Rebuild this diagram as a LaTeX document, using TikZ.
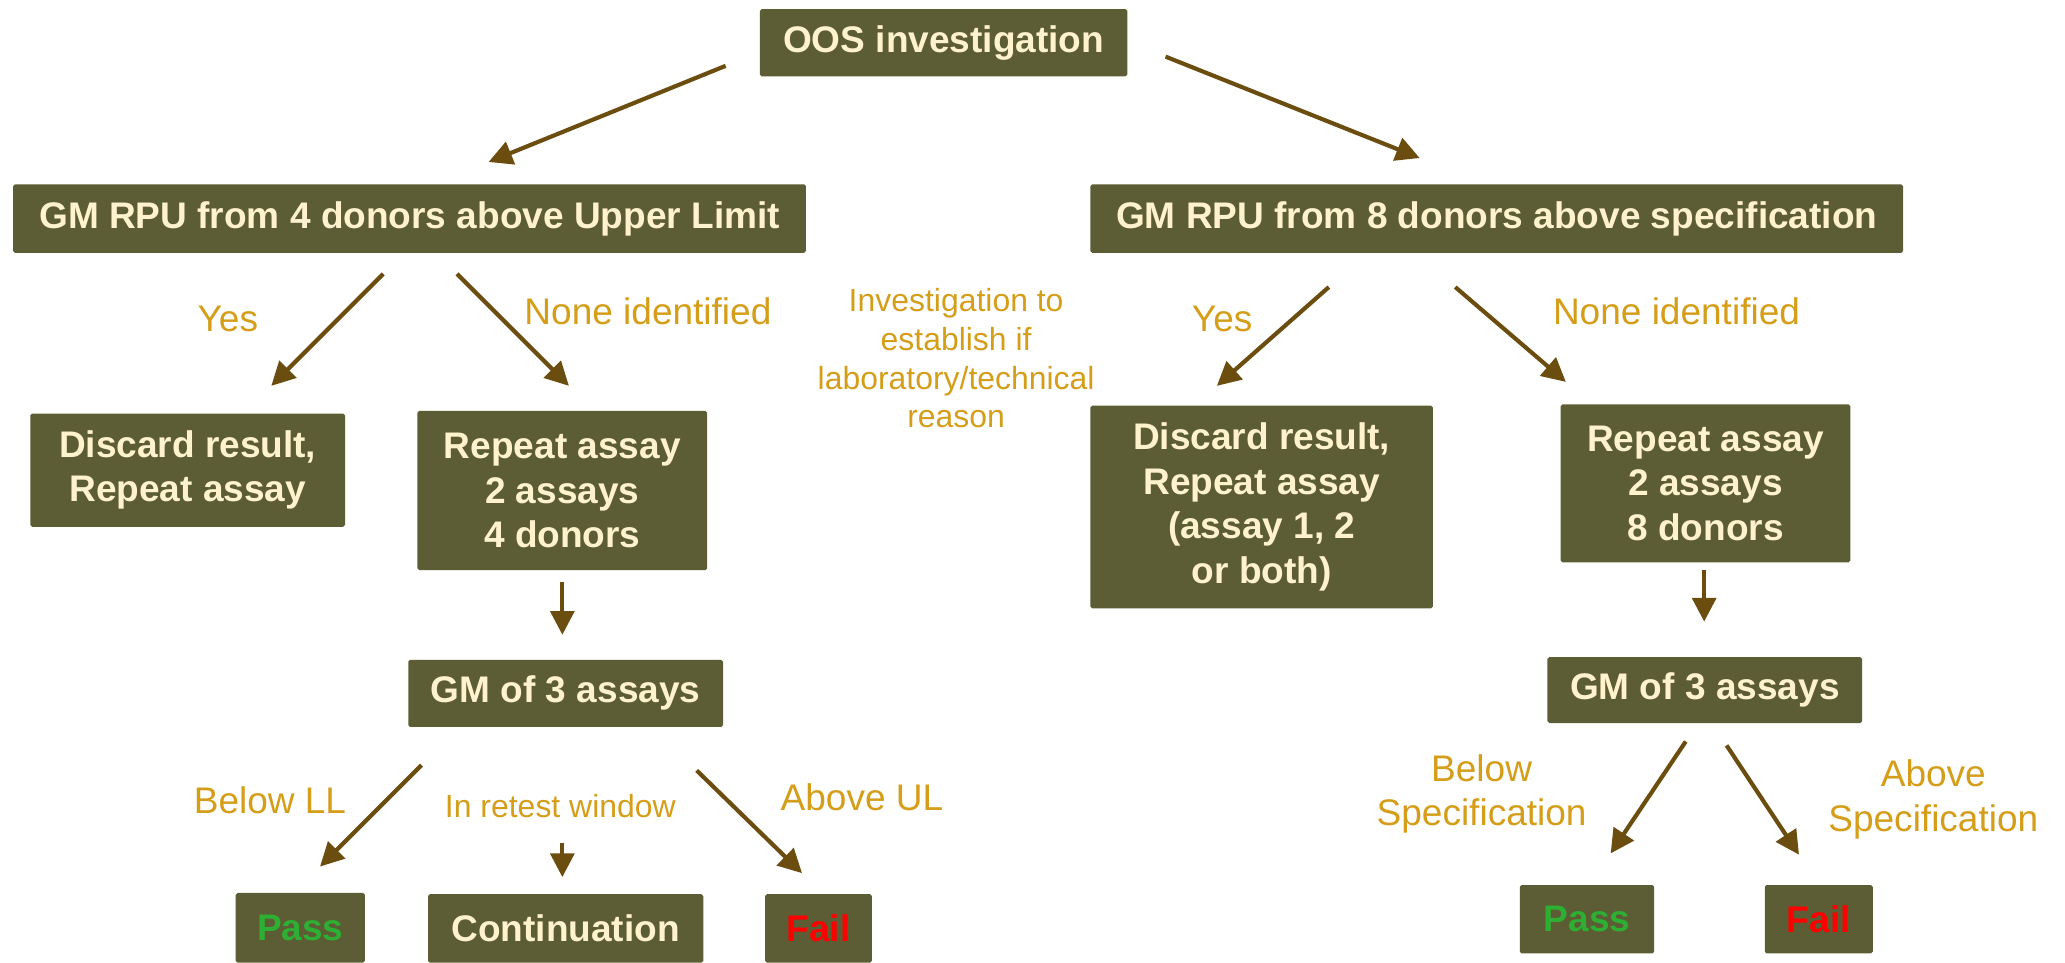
\documentclass[tikz,border=0pt]{standalone}
\usepackage{fontspec}
\setmainfont{Liberation Sans}
\usepackage{tikz}
\usetikzlibrary{arrows.meta, calc, positioning}
\definecolor{boxolive}{HTML}{5C5C35}
\definecolor{boxtext}{HTML}{FFF2CC}
\definecolor{labgold}{HTML}{D49E1A}
\definecolor{arrbrown}{HTML}{6B4D10}
\definecolor{passgreen}{HTML}{2EAE32}
\definecolor{failred}{HTML}{FF0000}

\begin{document}
\begin{tikzpicture}[
          >={Triangle[length=1.8mm, width=1.8mm]},
          stepbox/.style={fill=boxolive, text=boxtext, align=center, inner sep=0pt,
                          rounded corners=0.4pt, font=\bfseries\fontsize{8}{9.6}\selectfont},
          lab/.style={text=labgold, align=center, font=\fontsize{8}{9.6}\selectfont},
          smalllab/.style={text=labgold, align=center, font=\fontsize{6.9}{8.4}\selectfont},
          flow/.style={draw=arrbrown, line width=0.9pt, ->},
        ]

        % page frame
        \useasboundingbox (0,0) rectangle (15.68,-7.31);

        % -----------------------
        % Boxes
        % -----------------------
        \node[stepbox, minimum width=2.79cm, minimum height=0.51cm] (oos) at (7.165,-0.325) {OOS investigation};

        \node[stepbox, minimum width=6.02cm, minimum height=0.52cm] (lim) at (3.11,-1.66) {GM RPU from 4 donors above Upper Limit};
        \node[stepbox, minimum width=6.17cm, minimum height=0.52cm] (spec) at (11.365,-1.66) {GM RPU from 8 donors above specification};

        \node[stepbox, minimum width=2.39cm, minimum height=0.86cm] (ldiscard) at (1.425,-3.57) {Discard result,\\Repeat assay};
        \node[stepbox, minimum width=2.20cm, minimum height=1.21cm] (lrepeat) at (4.27,-3.725) {Repeat assay\\2 assays\\4 donors};
        \node[stepbox, minimum width=2.60cm, minimum height=1.54cm] (rdiscard) at (9.58,-3.85) {Discard result,\\Repeat assay\\(assay 1, 2\\or both)};
        \node[stepbox, minimum width=2.20cm, minimum height=1.20cm] (rrepeat) at (12.95,-3.67) {Repeat assay\\2 assays\\8 donors};

        \node[stepbox, minimum width=2.39cm, minimum height=0.51cm] (lgm) at (4.295,-5.265) {GM of 3 assays};
        \node[stepbox, minimum width=2.39cm, minimum height=0.50cm] (rgm) at (12.945,-5.24) {GM of 3 assays};

        \node[stepbox, minimum width=0.98cm, minimum height=0.53cm] (lpass) at (2.28,-7.045) {\textcolor{passgreen}{Pass}};
        \node[stepbox, minimum width=2.09cm, minimum height=0.52cm] (lcont) at (4.295,-7.05) {Continuation};
        \node[stepbox, minimum width=0.81cm, minimum height=0.52cm] (lfail) at (6.215,-7.05) {\textcolor{failred}{Fail}};
        \node[stepbox, minimum width=1.02cm, minimum height=0.52cm] (rpass) at (12.05,-6.98) {\textcolor{passgreen}{Pass}};
        \node[stepbox, minimum width=0.82cm, minimum height=0.52cm] (rfail) at (13.81,-6.98) {\textcolor{failred}{Fail}};

        % -----------------------
        % Labels
        % -----------------------
        \node[lab] (lyes) at (1.73,-2.42) {Yes};
        \node[lab] (lnone) at (4.92,-2.36) {None identified};
        \node[smalllab] (why) at (7.26,-2.72) {Investigation to\\establish if\\laboratory/technical\\reason};
        \node[lab] (ryes) at (9.28,-2.42) {Yes};
        \node[lab] (rnone) at (12.73,-2.36) {None identified};
        \node[lab] (lbelow) at (2.05,-6.08) {Below LL};
        \node[smalllab] (lretest) at (4.255,-6.12) {In retest window};
        \node[lab] (labove) at (6.545,-6.05) {Above UL};
        \node[lab] (rbelow) at (11.25,-6.03) {Below\\Specification};
        \node[lab] (rabove) at (14.68,-6.07) {Above\\Specification};

        % -----------------------
        % Arrow ends
        % -----------------------
        \coordinate (oosL) at (5.51,-0.50);   \coordinate (limT) at (3.71,-1.23);
        \coordinate (oosR) at (8.85,-0.43);   \coordinate (specT) at (10.78,-1.20);
        \coordinate (limY) at (2.91,-2.08);   \coordinate (ldisT) at (2.06,-2.93);
        \coordinate (limN) at (3.47,-2.08);   \coordinate (lrepT) at (4.32,-2.93);
        \coordinate (specY) at (10.09,-2.18); \coordinate (rdisT) at (9.24,-2.93);
        \coordinate (specN) at (11.05,-2.18); \coordinate (rrepT) at (11.89,-2.90);
        \coordinate (lrepB) at (4.27,-4.42);  \coordinate (lgmT) at (4.27,-4.82);
        \coordinate (rrepB) at (12.94,-4.33); \coordinate (rgmT) at (12.94,-4.72);
        \coordinate (lgmB) at (3.20,-5.81);   \coordinate (lpassT) at (2.43,-6.58);
        \coordinate (lgmU) at (5.29,-5.85);   \coordinate (lfailT) at (6.09,-6.63);
        \coordinate (lgmC) at (4.27,-6.40);   \coordinate (lcontT) at (4.27,-6.66);
        \coordinate (rgmB) at (12.80,-5.63);  \coordinate (rpassT) at (12.23,-6.48);
        \coordinate (rgmU) at (13.11,-5.66);  \coordinate (rfailT) at (13.66,-6.49);

        % -----------------------
        % Arrows
        % -----------------------
        \draw[flow] (oosL) -- (limT);
        \draw[flow] (oosR) -- (specT);
        \draw[flow] (limY) -- (ldisT);
        \draw[flow] (limN) -- (lrepT);
        \draw[flow] (specY) -- (rdisT);
        \draw[flow] (specN) -- (rrepT);
        \draw[flow] (lrepB) -- (lgmT);
        \draw[flow] (rrepB) -- (rgmT);
        \draw[flow] (lgmB) -- (lpassT);
        \draw[flow] (lgmU) -- (lfailT);
        \draw[flow] (lgmC) -- (lcontT);
        \draw[flow] (rgmB) -- (rpassT);
        \draw[flow] (rgmU) -- (rfailT);

        \end{tikzpicture}
\end{document}
